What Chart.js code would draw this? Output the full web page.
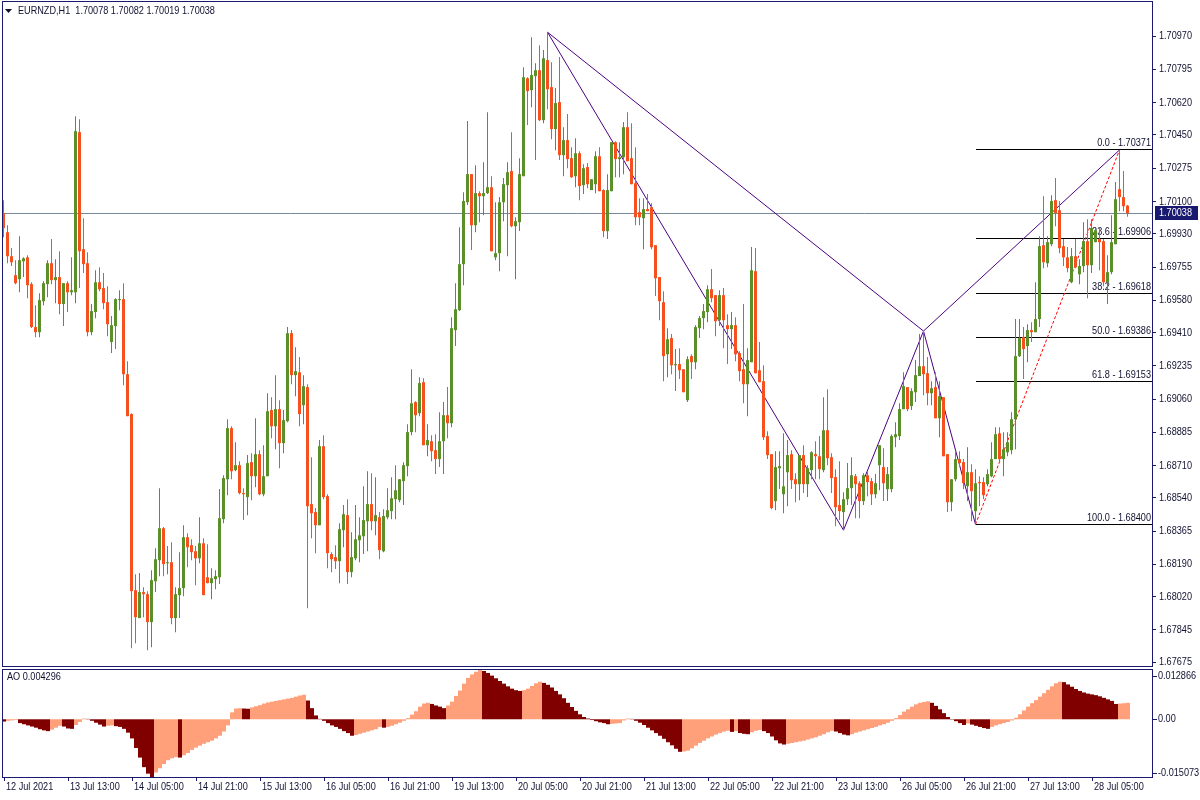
<!DOCTYPE html>
<html>
<head>
<meta charset="utf-8">
<title>EURNZD,H1</title>
<script src="https://cdn.jsdelivr.net/npm/chart.js@4.4.1/dist/chart.umd.min.js"></script>
<style>
  html, body { margin: 0; padding: 0; background: #ffffff; }
  #chart-wrap { position: relative; width: 1200px; height: 800px; overflow: hidden; }
  #price-chart { position: absolute; left: 0; top: 0; }
  #ao-chart { position: absolute; left: 0; top: 668px; }
</style>
</head>
<body>
<div id="chart-wrap">
  <canvas id="price-chart" width="1200" height="668"></canvas>
  <canvas id="ao-chart" width="1200" height="132"></canvas>
</div>
<script>
var symbolName = 'EURNZD,H1';

// time axis, one label every 16 bars
var tickEvery = 16;
var tickLabels = ['12 Jul 2021', '13 Jul 13:00', '14 Jul 05:00', '14 Jul 21:00', '15 Jul 13:00', '16 Jul 05:00',
  '16 Jul 21:00', '19 Jul 13:00', '20 Jul 05:00', '20 Jul 21:00', '21 Jul 13:00', '22 Jul 05:00',
  '22 Jul 21:00', '23 Jul 13:00', '26 Jul 05:00', '26 Jul 21:00', '27 Jul 13:00', '28 Jul 05:00'];

// price axis
var priceTicks = [1.70970, 1.70795, 1.70620, 1.70450, 1.70275, 1.70100, 1.69930, 1.69755, 1.69580, 1.69410,
  1.69235, 1.69060, 1.68885, 1.68710, 1.68540, 1.68365, 1.68190, 1.68020, 1.67845, 1.67675];
var priceMin = 1.67655;
var priceMax = 1.71150;

// H1 candles
var opens = [
  1.70039, 1.69938, 1.69812, 1.69712, 1.69691, 1.69785, 1.69806, 1.69665, 1.69439, 1.69412,
  1.69575, 1.69665, 1.69775, 1.69686, 1.69702, 1.69560, 1.69670, 1.69622, 1.69622, 1.70465,
  1.69849, 1.69775, 1.69412, 1.69518, 1.69675, 1.69644, 1.69570, 1.69360, 1.69444, 1.69581,
  1.69586, 1.69191, 1.68981, 1.68054, 1.67907, 1.68044, 1.68033, 1.67886, 1.68101, 1.68212,
  1.68380, 1.68196, 1.68201, 1.67907, 1.68028, 1.68065, 1.68333, 1.68291, 1.68259, 1.68222,
  1.68301, 1.68122, 1.68091, 1.68112, 1.68122, 1.68428, 1.68638, 1.68907, 1.68686, 1.68712,
  1.68565, 1.68544, 1.68728, 1.68654, 1.68770, 1.68559, 1.68654, 1.69002, 1.68917, 1.69007,
  1.68828, 1.68944, 1.69407, 1.69186, 1.69201, 1.69028, 1.69123, 1.68507, 1.68465, 1.68396,
  1.68812, 1.68549, 1.68244, 1.68228, 1.68207, 1.68370, 1.68449, 1.68149, 1.68222, 1.68317,
  1.68338, 1.68417, 1.68507, 1.68417, 1.68438, 1.68259, 1.68438, 1.68470, 1.68533, 1.68528,
  1.68628, 1.68707, 1.68886, 1.69044, 1.68986, 1.69149, 1.68817, 1.68838, 1.68791, 1.68744,
  1.68838, 1.68975, 1.68933, 1.69423, 1.69528, 1.69770, 1.70096, 1.70244, 1.69975, 1.70144,
  1.70128, 1.70144, 1.70175, 1.69806, 1.69828, 1.70096, 1.70186, 1.70260, 1.69970, 1.69991,
  1.70233, 1.70749, 1.70686, 1.70760, 1.70791, 1.70528, 1.70844, 1.70702, 1.70481, 1.70623,
  1.70344, 1.70423, 1.70328, 1.70233, 1.70354, 1.70186, 1.70281, 1.70160, 1.70191, 1.70338,
  1.70160, 1.69944, 1.70154, 1.70412, 1.70323, 1.70333, 1.70491, 1.70328, 1.70196, 1.70044,
  1.70012, 1.70060, 1.70070, 1.69870, 1.69702, 1.69570, 1.69296, 1.69381, 1.69238, 1.69244,
  1.69217, 1.69054, 1.69286, 1.69254, 1.69433, 1.69486, 1.69518, 1.69638, 1.69607, 1.69475,
  1.69607, 1.69449, 1.69428, 1.69449, 1.69302, 1.69217, 1.69138, 1.69254, 1.69733, 1.69212,
  1.69154, 1.68865, 1.68770, 1.68523, 1.68696, 1.68559, 1.68675, 1.68770, 1.68638, 1.68612,
  1.68765, 1.68612, 1.68686, 1.68770, 1.68759, 1.68686, 1.68896, 1.68754, 1.68649, 1.68502,
  1.68465, 1.68533, 1.68591, 1.68654, 1.68617, 1.68523, 1.68659, 1.68628, 1.68559, 1.68712,
  1.68702, 1.68586, 1.68586, 1.68859, 1.68865, 1.69007, 1.69123, 1.69023, 1.69096, 1.69181,
  1.69233, 1.69196, 1.69091, 1.69123, 1.68959, 1.69070, 1.68770, 1.68517, 1.68638, 1.68744,
  1.68728, 1.68602, 1.68675, 1.68470, 1.68623, 1.68623, 1.68612, 1.68654, 1.68744, 1.68880,
  1.68744, 1.68780, 1.68791, 1.68954, 1.69286, 1.69386, 1.69339, 1.69423, 1.69412, 1.69481,
  1.69870, 1.69775, 1.69875, 1.70107, 1.70054, 1.69865, 1.69806, 1.69675, 1.69812, 1.69717,
  1.69760, 1.69891, 1.69765, 1.69886, 1.69902, 1.69891, 1.69675, 1.69728, 1.69875, 1.70165,
  1.70123, 1.70078
];
var highs = [
  1.70107, 1.69975, 1.69855, 1.69791, 1.69917, 1.69806, 1.69817, 1.69675, 1.69554, 1.69617,
  1.69680, 1.69791, 1.69902, 1.69796, 1.69838, 1.69670, 1.69680, 1.69806, 1.70549, 1.70533,
  1.70012, 1.69833, 1.69560, 1.69738, 1.69754, 1.69723, 1.69654, 1.69497, 1.69591, 1.69633,
  1.69670, 1.69259, 1.68986, 1.68138, 1.68144, 1.68070, 1.68049, 1.68159, 1.68275, 1.68591,
  1.68386, 1.68286, 1.68307, 1.68070, 1.68254, 1.68396, 1.68354, 1.68322, 1.68286, 1.68438,
  1.68328, 1.68296, 1.68170, 1.68159, 1.68586, 1.68659, 1.68954, 1.68917, 1.68833, 1.68733,
  1.68591, 1.68765, 1.68775, 1.68959, 1.68791, 1.68817, 1.69091, 1.69070, 1.69186, 1.69054,
  1.69002, 1.69439, 1.69423, 1.69333, 1.69281, 1.69186, 1.69138, 1.68754, 1.68486, 1.68844,
  1.68870, 1.68559, 1.68254, 1.68291, 1.68407, 1.68502, 1.68533, 1.68359, 1.68502, 1.68438,
  1.68601, 1.68680, 1.68670, 1.68649, 1.68465, 1.68480, 1.68591, 1.68649, 1.68712, 1.68638,
  1.68728, 1.68928, 1.69217, 1.69049, 1.69175, 1.69170, 1.68928, 1.68870, 1.68875, 1.68991,
  1.69044, 1.69123, 1.69491, 1.69670, 1.69965, 1.70149, 1.70523, 1.70244, 1.70291, 1.70154,
  1.70307, 1.70570, 1.70233, 1.70096, 1.70123, 1.70223, 1.70307, 1.70465, 1.70017, 1.70328,
  1.70807, 1.70754, 1.70965, 1.70828, 1.70923, 1.70897, 1.70991, 1.70833, 1.70697, 1.70860,
  1.70491, 1.70560, 1.70386, 1.70433, 1.70365, 1.70296, 1.70302, 1.70217, 1.70365, 1.70386,
  1.70165, 1.70244, 1.70412, 1.70417, 1.70412, 1.70518, 1.70570, 1.70512, 1.70386, 1.70117,
  1.70117, 1.70139, 1.70091, 1.69870, 1.69702, 1.69628, 1.69433, 1.69402, 1.69323, 1.69328,
  1.69217, 1.69286, 1.69296, 1.69449, 1.69497, 1.69560, 1.69659, 1.69744, 1.69607, 1.69633,
  1.69644, 1.69507, 1.69518, 1.69491, 1.69312, 1.69560, 1.69328, 1.69860, 1.69855, 1.69360,
  1.69238, 1.68891, 1.68770, 1.68786, 1.68786, 1.68880, 1.68844, 1.68791, 1.68670, 1.68765,
  1.68817, 1.68712, 1.68786, 1.68838, 1.68865, 1.69070, 1.69112, 1.68775, 1.68691, 1.68733,
  1.68570, 1.68723, 1.68754, 1.68665, 1.68628, 1.68670, 1.68680, 1.68644, 1.68665, 1.68817,
  1.68801, 1.68702, 1.68875, 1.68938, 1.69038, 1.69201, 1.69123, 1.69117, 1.69265, 1.69402,
  1.69418, 1.69281, 1.69154, 1.69201, 1.69154, 1.69070, 1.68770, 1.68638, 1.68786, 1.68786,
  1.68744, 1.68807, 1.68717, 1.68691, 1.68654, 1.68649, 1.68691, 1.68833, 1.68912, 1.68912,
  1.68886, 1.68886, 1.68991, 1.69481, 1.69481, 1.69439, 1.69454, 1.69465, 1.69675, 1.69917,
  1.70128, 1.69917, 1.70133, 1.70223, 1.70102, 1.69902, 1.69860, 1.69855, 1.69902, 1.69796,
  1.69991, 1.70007, 1.70007, 1.69960, 1.69965, 1.69902, 1.69817, 1.70028, 1.70202, 1.70371,
  1.70260, 1.70082
];
var lows = [
  1.69912, 1.69775, 1.69760, 1.69665, 1.69622, 1.69702, 1.69591, 1.69434, 1.69386, 1.69386,
  1.69554, 1.69596, 1.69665, 1.69565, 1.69507, 1.69444, 1.69518, 1.69607, 1.69565, 1.69644,
  1.69723, 1.69391, 1.69396, 1.69486, 1.69628, 1.69533, 1.69391, 1.69302, 1.69323, 1.69528,
  1.69133, 1.68970, 1.67749, 1.67775, 1.67907, 1.67912, 1.67738, 1.67754, 1.68044, 1.68128,
  1.68128, 1.68138, 1.67875, 1.67833, 1.67907, 1.68022, 1.68175, 1.68212, 1.68080, 1.68196,
  1.68028, 1.68091, 1.68007, 1.68059, 1.68086, 1.68407, 1.68554, 1.68638, 1.68680, 1.68559,
  1.68423, 1.68449, 1.68528, 1.68596, 1.68554, 1.68549, 1.68654, 1.68854, 1.68796, 1.68696,
  1.68775, 1.68938, 1.69138, 1.69075, 1.68917, 1.68928, 1.67959, 1.68328, 1.68249, 1.68396,
  1.68533, 1.68170, 1.68149, 1.68165, 1.68091, 1.68280, 1.68086, 1.68122, 1.68212, 1.68201,
  1.68244, 1.68259, 1.68370, 1.68343, 1.68217, 1.68254, 1.68428, 1.68428, 1.68428, 1.68517,
  1.68502, 1.68654, 1.68870, 1.68886, 1.68970, 1.68817, 1.68759, 1.68733, 1.68665, 1.68702,
  1.68665, 1.68854, 1.68912, 1.69339, 1.69523, 1.69659, 1.70081, 1.69844, 1.69938, 1.69991,
  1.70028, 1.70139, 1.69838, 1.69791, 1.69733, 1.69996, 1.69812, 1.69965, 1.69691, 1.69944,
  1.70233, 1.70502, 1.70596, 1.70318, 1.70523, 1.70512, 1.70586, 1.70428, 1.70370, 1.70318,
  1.70233, 1.70275, 1.70223, 1.70175, 1.70107, 1.70139, 1.70170, 1.70160, 1.70144, 1.70154,
  1.69912, 1.69902, 1.70154, 1.70228, 1.70228, 1.70244, 1.70312, 1.70191, 1.69975, 1.69975,
  1.69849, 1.70049, 1.69849, 1.69602, 1.69475, 1.69154, 1.69175, 1.69191, 1.69102, 1.69165,
  1.69096, 1.69044, 1.69165, 1.69217, 1.69381, 1.69428, 1.69465, 1.69570, 1.69391, 1.69444,
  1.69328, 1.69244, 1.69323, 1.69259, 1.69154, 1.69038, 1.68970, 1.69254, 1.69196, 1.69149,
  1.68844, 1.68744, 1.68480, 1.68475, 1.68586, 1.68459, 1.68496, 1.68586, 1.68517, 1.68528,
  1.68565, 1.68544, 1.68638, 1.68638, 1.68638, 1.68675, 1.68712, 1.68565, 1.68391, 1.68423,
  1.68370, 1.68502, 1.68502, 1.68433, 1.68433, 1.68502, 1.68549, 1.68502, 1.68538, 1.68580,
  1.68523, 1.68523, 1.68570, 1.68807, 1.68844, 1.69007, 1.68996, 1.69002, 1.69044, 1.69181,
  1.69080, 1.69028, 1.69028, 1.68959, 1.68859, 1.68759, 1.68465, 1.68470, 1.68628, 1.68702,
  1.68586, 1.68523, 1.68417, 1.68400, 1.68496, 1.68533, 1.68601, 1.68649, 1.68744, 1.68728,
  1.68654, 1.68759, 1.68770, 1.68796, 1.69281, 1.69165, 1.69254, 1.69360, 1.69412, 1.69439,
  1.69749, 1.69754, 1.69865, 1.69970, 1.69828, 1.69760, 1.69728, 1.69670, 1.69749, 1.69665,
  1.69728, 1.69591, 1.69723, 1.69886, 1.69738, 1.69654, 1.69560, 1.69717, 1.69875, 1.70049,
  1.70049, 1.70019
];
var closes = [
  1.69960, 1.69812, 1.69780, 1.69670, 1.69791, 1.69801, 1.69659, 1.69439, 1.69412, 1.69581,
  1.69670, 1.69775, 1.69686, 1.69702, 1.69560, 1.69670, 1.69622, 1.69633, 1.70470, 1.69838,
  1.69770, 1.69412, 1.69523, 1.69675, 1.69638, 1.69565, 1.69454, 1.69449, 1.69586, 1.69586,
  1.69191, 1.68970, 1.68049, 1.67912, 1.68044, 1.68033, 1.67886, 1.68107, 1.68217, 1.68380,
  1.68191, 1.68201, 1.67907, 1.68033, 1.68065, 1.68333, 1.68280, 1.68254, 1.68222, 1.68301,
  1.68028, 1.68091, 1.68117, 1.68128, 1.68433, 1.68644, 1.68907, 1.68680, 1.68712, 1.68565,
  1.68559, 1.68723, 1.68654, 1.68770, 1.68559, 1.68654, 1.68996, 1.68917, 1.69007, 1.68828,
  1.68949, 1.69407, 1.69186, 1.69207, 1.68981, 1.69128, 1.68496, 1.68459, 1.68396, 1.68812,
  1.68544, 1.68249, 1.68217, 1.68207, 1.68375, 1.68454, 1.68149, 1.68228, 1.68322, 1.68343,
  1.68423, 1.68507, 1.68417, 1.68449, 1.68265, 1.68444, 1.68475, 1.68538, 1.68580, 1.68638,
  1.68712, 1.68886, 1.69038, 1.68975, 1.69144, 1.68817, 1.68844, 1.68786, 1.68744, 1.68838,
  1.68975, 1.68933, 1.69433, 1.69533, 1.69770, 1.70102, 1.70244, 1.69975, 1.70144, 1.70128,
  1.70144, 1.70175, 1.69838, 1.69828, 1.70096, 1.70191, 1.70254, 1.69970, 1.69996, 1.70244,
  1.70754, 1.70681, 1.70765, 1.70791, 1.70528, 1.70854, 1.70691, 1.70481, 1.70618, 1.70344,
  1.70423, 1.70323, 1.70228, 1.70354, 1.70181, 1.70275, 1.70191, 1.70217, 1.70338, 1.70154,
  1.69944, 1.70160, 1.70412, 1.70323, 1.70333, 1.70491, 1.70312, 1.70191, 1.70017, 1.70017,
  1.70060, 1.70049, 1.69859, 1.69696, 1.69575, 1.69286, 1.69375, 1.69238, 1.69244, 1.69212,
  1.69096, 1.69270, 1.69254, 1.69439, 1.69486, 1.69523, 1.69638, 1.69591, 1.69470, 1.69607,
  1.69475, 1.69428, 1.69449, 1.69296, 1.69207, 1.69138, 1.69265, 1.69738, 1.69196, 1.69149,
  1.68859, 1.68765, 1.68486, 1.68702, 1.68707, 1.68601, 1.68765, 1.68633, 1.68612, 1.68765,
  1.68612, 1.68696, 1.68780, 1.68759, 1.68691, 1.68896, 1.68749, 1.68644, 1.68491, 1.68470,
  1.68533, 1.68591, 1.68659, 1.68612, 1.68523, 1.68659, 1.68623, 1.68559, 1.68617, 1.68817,
  1.68617, 1.68665, 1.68865, 1.68875, 1.69007, 1.69128, 1.69007, 1.69102, 1.69186, 1.69233,
  1.69191, 1.69091, 1.69117, 1.68959, 1.69075, 1.68759, 1.68517, 1.68638, 1.68744, 1.68723,
  1.68617, 1.68675, 1.68575, 1.68617, 1.68617, 1.68554, 1.68665, 1.68744, 1.68875, 1.68744,
  1.68796, 1.68833, 1.68954, 1.69286, 1.69381, 1.69323, 1.69423, 1.69412, 1.69481, 1.69865,
  1.69780, 1.69886, 1.70102, 1.70039, 1.69854, 1.69806, 1.69749, 1.69812, 1.69754, 1.69760,
  1.69891, 1.69765, 1.69960, 1.69949, 1.69886, 1.69675, 1.69728, 1.69886, 1.70112, 1.70123,
  1.70075, 1.70038
];

// Awesome Oscillator, one value per candle
var aoValues = [
  -0.0006, -0.0004, -0.0003, -0.0002, -0.0010, -0.0013, -0.0016, -0.0019, -0.0022, -0.0026,
  -0.0029, -0.0031, -0.0027, -0.0022, -0.0017, -0.0019, -0.0024, -0.0025, -0.0015, -0.0007,
  0.0002, 0.0001, -0.0004, -0.0009, -0.0014, -0.0019, -0.0017, -0.0016, -0.0018, -0.0020,
  -0.0025, -0.0035, -0.0050, -0.0075, -0.0100, -0.0125, -0.0142, -0.015073, -0.0139, -0.0128,
  -0.0117, -0.0107, -0.0102, -0.0099, -0.0100, -0.0094, -0.0088, -0.0080, -0.0074, -0.0069,
  -0.0064, -0.0060, -0.0056, -0.0050, -0.0043, -0.0032, -0.0016, 0.0018, 0.0028, 0.0029,
  0.0028, 0.00275, 0.0031, 0.0034, 0.0037, 0.0041, 0.0044, 0.0046, 0.0048, 0.0050,
  0.0052, 0.0054, 0.0056, 0.0059, 0.0062, 0.0064, 0.0049, 0.0029, 0.0010, 0.0001,
  -0.0004, -0.0010, -0.0016, -0.0020, -0.0025, -0.0031, -0.0036, -0.0043, -0.0041, -0.0038,
  -0.0035, -0.0032, -0.0029, -0.0026, -0.0020, -0.0022, -0.0020, -0.0017, -0.0013, -0.0009,
  -0.0004, 0.0003, 0.0012, 0.0021, 0.0033, 0.0041, 0.0043, 0.0040, 0.0036, 0.0033,
  0.0029, 0.0036, 0.0046, 0.0061, 0.0075, 0.0093, 0.0108, 0.0117, 0.0124, 0.012866,
  0.0126, 0.0121, 0.0114, 0.0107, 0.0100, 0.0093, 0.0086, 0.0080, 0.0076, 0.0074,
  0.0076, 0.0080, 0.0087, 0.0094, 0.0098, 0.0095, 0.0090, 0.0083, 0.0074, 0.0065,
  0.0055, 0.0043, 0.0032, 0.0022, 0.0013, 0.0006, 0.0002, -0.0002, -0.0005, -0.0008,
  -0.0010, -0.0013, -0.0012, -0.0011, -0.0010, -0.0003, 0.0002, 0.0001, -0.0004, -0.0009,
  -0.0015, -0.0022, -0.0029, -0.0036, -0.0043, -0.0051, -0.0060, -0.0068, -0.0077, -0.0085,
  -0.0084, -0.0082, -0.0076, -0.0069, -0.0062, -0.0056, -0.0050, -0.0045, -0.0040, -0.0036,
  -0.0032, -0.0030, -0.0033, -0.0031, -0.0036, -0.0038, -0.0039, -0.0034, -0.0030, -0.0028,
  -0.0031, -0.0036, -0.0045, -0.0055, -0.0063, -0.0066, -0.0064, -0.0062, -0.0060, -0.0058,
  -0.0056, -0.0053, -0.0050, -0.0047, -0.0043, -0.0039, -0.0034, -0.0030, -0.0032, -0.0036,
  -0.0040, -0.0042, -0.0039, -0.0035, -0.0032, -0.0029, -0.0026, -0.0023, -0.0020, -0.0016,
  -0.0013, -0.0009, -0.0004, 0.0003, 0.0011, 0.0020, 0.0026, 0.0033, 0.0039, 0.0043,
  0.0045, 0.0047, 0.0043, 0.0035, 0.0026, 0.0016, 0.0006, -0.0001, -0.0005, -0.0010,
  -0.0015, -0.0011, -0.0014, -0.0017, -0.0020, -0.0023, -0.0025, -0.0020, -0.0016, -0.0013,
  -0.0010, -0.0007, -0.0003, 0.0004, 0.0013, 0.0023, 0.0033, 0.0042, 0.0050, 0.0059,
  0.0068, 0.0077, 0.0086, 0.0094, 0.0098, 0.0097, 0.0091, 0.0085, 0.0079, 0.0074,
  0.0070, 0.0067, 0.0065, 0.0063, 0.0060, 0.0056, 0.0052, 0.0048, 0.0040, 0.0041,
  0.0042, 0.004296
];

// zigzag, wave line and fibo retracement anchors
var zigzagBars = [136, 210, 230, 243];
var zigzagSides = ['high', 'low', 'high', 'low'];
var waveBars = [136, 230, 279];
var fibStartBar = 243;
var fibEndBar = 279;
var fibLevels = [0.0, 23.6, 38.2, 50.0, 61.8, 100.0];
var fibPrices = [1.70371, 1.69906, 1.69618, 1.69386, 1.69153, 1.68400];

// colours and fonts
var upColor = '#5b8f29';
var downColor = '#f5501f';
var aoUpColor = '#ffa07a';
var aoDownColor = '#800000';
var frameColor = '#191970';
var textColor = '#101030';
var zigzagColor = '#4b0082';
var fibTrendColor = '#ff0000';
var fibLineColor = '#000000';
var bidLineColor = '#778899';
var fontFamily = "'Liberation Sans', Arial, sans-serif";
var fontSize = 11;
var textStretch = 0.83; // narrow, terminal-like lettering

var axisWidth = 48;
var xMin = -0.875;
var xMax = 287.125;

function pivotPrice(bar, side) {
  return side === 'high' ? highs[bar] : lows[bar];
}

function crisp(v) {
  return Math.round(v - 0.5) + 0.5;
}

// Draw narrow text
function drawText(ctx, text, x, y, align, baseline, color) {
  ctx.save();
  ctx.font = fontSize + 'px ' + fontFamily;
  ctx.fillStyle = color || textColor;
  ctx.textAlign = align;
  ctx.textBaseline = baseline;
  ctx.translate(x, y);
  ctx.scale(textStretch, 1);
  ctx.fillText(text, 0, 0);
  ctx.restore();
}

// Build candle data
var wickData = [];
var bodyData = [];
var candleColors = [];
for (var i = 0; i < closes.length; i++) {
  wickData.push({ x: i, y: [lows[i], highs[i]] });
  bodyData.push({ x: i, y: [opens[i], closes[i]] });
  candleColors.push(closes[i] >= opens[i] ? upColor : downColor);
}

var zigzagData = zigzagBars.map(function (b, k) {
  return { x: b, y: pivotPrice(b, zigzagSides[k]) };
});
var waveData = waveBars.map(function (b) {
  return { x: b, y: highs[b] };
});
var fibTrendData = [
  { x: fibStartBar, y: lows[fibStartBar] },
  { x: fibEndBar, y: highs[fibEndBar] }
];

// Build AO data
var aoData = [];
var aoColors = [];
for (var j = 0; j < aoValues.length; j++) {
  aoData.push({ x: j, y: aoValues[j] });
  aoColors.push(j > 0 && aoValues[j] > aoValues[j - 1] ? aoUpColor : aoDownColor);
}
var aoMin = Math.min.apply(null, aoValues);
var aoMax = Math.max.apply(null, aoValues);

function drawFrame(ctx, area) {
  ctx.save();
  ctx.strokeStyle = frameColor;
  ctx.lineWidth = 1;
  ctx.strokeRect(2.5, area.top - 0.5, area.right - 2, area.bottom - area.top + 1);
  ctx.restore();
}

// Price pane decorations
var priceDecor = {
  id: 'priceDecor',
  beforeDatasetsDraw: function (chart) {
    var ctx = chart.ctx;
    var area = chart.chartArea;
    var xs = chart.scales.x;
    var ys = chart.scales.y;
    var last = closes.length - 1;
    ctx.save();
    ctx.lineWidth = 1;

    // bid line
    var by = crisp(ys.getPixelForValue(closes[last]));
    ctx.strokeStyle = bidLineColor;
    ctx.beginPath();
    ctx.moveTo(area.left + 3, by);
    ctx.lineTo(area.right, by);
    ctx.stroke();

    // fibo levels
    var fx = Math.round(xs.getPixelForValue(fibStartBar));
    for (var k = 0; k < fibLevels.length; k++) {
      var fy = crisp(ys.getPixelForValue(fibPrices[k]));
      ctx.strokeStyle = fibLineColor;
      ctx.beginPath();
      ctx.moveTo(fx, fy);
      ctx.lineTo(area.right, fy);
      ctx.stroke();
      drawText(ctx, fibLevels[k].toFixed(1) + ' - ' + fibPrices[k].toFixed(5), area.right - 1, fy - 1, 'right', 'bottom');
    }
    ctx.restore();
  },
  afterDraw: function (chart) {
    var ctx = chart.ctx;
    var area = chart.chartArea;
    var ys = chart.scales.y;
    var last = closes.length - 1;
    drawFrame(ctx, area);

    // price axis labels
    for (var k = 0; k < priceTicks.length; k++) {
      drawText(ctx, priceTicks[k].toFixed(5), area.right + 7, ys.getPixelForValue(priceTicks[k]), 'left', 'middle');
    }

    // bid price box on the axis
    var by = Math.round(ys.getPixelForValue(closes[last]));
    ctx.save();
    ctx.fillStyle = frameColor;
    ctx.fillRect(area.right + 3, by - 7, 43, 14);
    ctx.restore();
    drawText(ctx, closes[last].toFixed(5), area.right + 7, by, 'left', 'middle', '#ffffff');

    // title
    ctx.save();
    ctx.fillStyle = textColor;
    ctx.beginPath();
    ctx.moveTo(5, 9);
    ctx.lineTo(12, 9);
    ctx.lineTo(8.5, 13);
    ctx.closePath();
    ctx.fill();
    ctx.restore();
    var ohlc = [opens[last], highs[last], lows[last], closes[last]].map(function (v) { return v.toFixed(5); });
    drawText(ctx, symbolName + '  ' + ohlc.join(' '), 18, 11, 'left', 'middle');
  }
};

// AO pane decorations
var aoDecor = {
  id: 'aoDecor',
  afterDraw: function (chart) {
    var ctx = chart.ctx;
    var area = chart.chartArea;
    var xs = chart.scales.x;
    var ys = chart.scales.y;
    drawFrame(ctx, area);

    drawText(ctx, 'AO ' + aoValues[aoValues.length - 1].toFixed(6), 7, area.top + 7, 'left', 'middle');

    var marks = [
      { v: aoMax, t: aoMax.toFixed(6) },
      { v: 0, t: '0.00' },
      { v: aoMin, t: aoMin.toFixed(6) }
    ];
    ctx.save();
    ctx.strokeStyle = frameColor;
    ctx.lineWidth = 1;
    for (var k = 0; k < marks.length; k++) {
      var y = ys.getPixelForValue(marks[k].v);
      y = Math.max(area.top + 6, Math.min(area.bottom - 4, y));
      var cy = crisp(y);
      ctx.beginPath();
      ctx.moveTo(area.right + 1, cy);
      ctx.lineTo(area.right + 5, cy);
      ctx.stroke();
      drawText(ctx, marks[k].t, area.right + 6, y, 'left', 'middle');
    }
    ctx.restore();

    // time axis labels
    for (var t = 0; t < tickLabels.length; t++) {
      var tx = xs.getPixelForValue(t * tickEvery);
      drawText(ctx, tickLabels[t], tx + 2, area.bottom + 10, 'left', 'middle');
    }
  }
};

// Price chart
var priceChart = new Chart(document.getElementById('price-chart'), {
  type: 'bar',
  data: {
    datasets: [
      { type: 'line', data: zigzagData, borderColor: zigzagColor, borderWidth: 1, pointRadius: 0, fill: false, tension: 0, order: 5 },
      { type: 'line', data: waveData, borderColor: zigzagColor, borderWidth: 1, pointRadius: 0, fill: false, tension: 0, order: 5 },
      { type: 'line', data: fibTrendData, borderColor: fibTrendColor, borderWidth: 1, borderDash: [3, 2], pointRadius: 0, fill: false, tension: 0, order: 4 },
      { data: wickData, backgroundColor: candleColors, barThickness: 1, grouped: false, inflateAmount: 0, order: 2 },
      { data: bodyData, backgroundColor: candleColors, barThickness: 3, grouped: false, inflateAmount: 0, minBarLength: 1, order: 1 }
    ]
  },
  options: {
    responsive: false,
    animation: false,
    events: [],
    layout: { padding: { left: 0, right: 0, top: 2, bottom: 2 } },
    plugins: { legend: { display: false }, tooltip: { enabled: false } },
    scales: {
      x: {
        type: 'linear',
        display: false,
        min: xMin,
        max: xMax,
        offset: false,
        grid: { offset: false }
      },
      y: {
        position: 'right',
        min: priceMin,
        max: priceMax,
        afterFit: function (scale) { scale.width = axisWidth; },
        afterBuildTicks: function (scale) {
          scale.ticks = priceTicks.map(function (v) { return { value: v }; });
        },
        grid: { drawOnChartArea: false, drawTicks: true, tickLength: 4, color: frameColor },
        border: { display: false },
        ticks: { display: false }
      }
    }
  },
  plugins: [priceDecor]
});

// AO chart
var aoChart = new Chart(document.getElementById('ao-chart'), {
  type: 'bar',
  data: {
    datasets: [
      { data: aoData, backgroundColor: aoColors, barThickness: 4, inflateAmount: 0 }
    ]
  },
  options: {
    responsive: false,
    animation: false,
    events: [],
    layout: { padding: { left: 0, right: 0, top: 2, bottom: 0 } },
    plugins: { legend: { display: false }, tooltip: { enabled: false } },
    scales: {
      x: {
        type: 'linear',
        position: 'bottom',
        min: xMin - 0.125,
        max: xMax - 0.125,
        offset: false,
        afterFit: function (scale) { scale.height = 23; },
        afterBuildTicks: function (scale) {
          scale.ticks = tickLabels.map(function (t, k) { return { value: k * tickEvery }; });
        },
        grid: { offset: false, drawOnChartArea: false, drawTicks: true, tickLength: 4, color: frameColor },
        border: { display: false },
        ticks: { display: false }
      },
      y: {
        position: 'right',
        min: aoMin,
        max: aoMax,
        afterFit: function (scale) { scale.width = axisWidth; },
        grid: { display: false },
        border: { display: false },
        ticks: { display: false }
      }
    }
  },
  plugins: [aoDecor]
});
</script>
</body>
</html>
